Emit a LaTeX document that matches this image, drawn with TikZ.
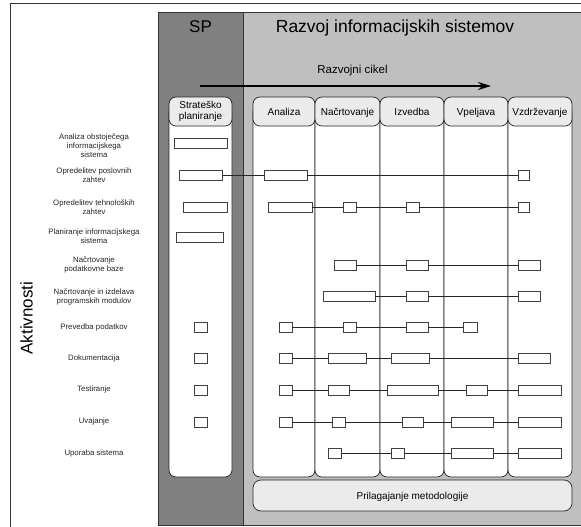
\documentclass[tikz,border=0pt]{standalone}
\usepackage{fontspec}
\setmainfont{Liberation Sans}
\usetikzlibrary{arrows.meta}
\newcommand{\mkbox}[4]{\node[bx, minimum width={(#3-#2)*1pt}] (#1) at ({(#2+#3)/2},#4) {};}
\begin{document}
\begin{tikzpicture}[x=1pt,y=-1pt,
  bx/.style={draw=black!75, line width=0.8pt, fill=white, minimum height=10pt, inner sep=0pt},
  link/.style={draw=black!85, line width=0.7pt},
  hdr/.style={draw=black!85, line width=0.7pt, fill=black!8, rounded corners=7pt, minimum height=29pt, inner sep=0pt, font=\fontsize{10}{11}\selectfont, align=center},
  lane/.style={draw=black!85, line width=0.7pt, fill=white, rounded corners=7pt, inner sep=0pt, minimum height=372pt},
  lbl/.style={font=\fontsize{7.8}{9}\selectfont, align=center, text=black!85, inner sep=0pt},
  region/.style={draw=black!80, line width=0.6pt}
]
\useasboundingbox (0,0) rectangle (581,527);
\clip (0,0) rectangle (581,527);
\fill[white] (0,0) rectangle (581,527);
\draw[black!80, line width=0.7pt] (10,3) rectangle (600,545);
% regions
\filldraw[region, fill=black!50] (158,12) rectangle (243,525);
\filldraw[region, fill=black!25] (243,12) rectangle (600,525);
% titles
\node[anchor=base, font=\fontsize{17}{20}\selectfont, inner sep=0pt] (tsp) at (200.5,33) {SP};
\node[anchor=base, font=\fontsize{17.5}{20}\selectfont, inner sep=0pt] (tri) at (395,33) {Razvoj informacijskih sistemov};
\node[anchor=base, font=\fontsize{11.5}{13}\selectfont, inner sep=0pt] (tcyc) at (352.5,74) {Razvojni cikel};
\coordinate (arrS) at (200,86);
\coordinate (arrE) at (491,86);
\draw[line width=2pt, -{Stealth[length=13pt,width=8pt]}] (arrS) -- (arrE);
% lanes (bodies)
\node[lane, minimum width=63pt] (bSP) at (200.5,291) {};
\node[lane, minimum width=62pt] (bAn) at (284,291) {};
\node[lane, minimum width=65pt] (bNa) at (347.5,291) {};
\node[lane, minimum width=64pt] (bIz) at (412,291) {};
\node[lane, minimum width=64pt] (bVp) at (476,291) {};
\node[lane, minimum width=64pt] (bVz) at (540,291) {};
% headers
\node[hdr, minimum width=63pt] (hSP) at (200.5,111.5) {Strateško\\planiranje};
\node[hdr, minimum width=62pt, text height=7.2pt, text depth=0pt] (hAn) at (284,111.5) {Analiza};
\node[hdr, minimum width=65pt, text height=7.2pt, text depth=0pt] (hNa) at (347.5,111.5) {Načrtovanje};
\node[hdr, minimum width=64pt, text height=7.2pt, text depth=0pt] (hIz) at (412,111.5) {Izvedba};
\node[hdr, minimum width=64pt, text height=7.2pt, text depth=0pt] (hVp) at (476,111.5) {Vpeljava};
\node[hdr, minimum width=64pt, text height=7.2pt, text depth=0pt] (hVz) at (540,111.5) {Vzdrževanje};
% bottom box
\node[hdr, minimum width=319pt, minimum height=31pt, rounded corners=8pt, text height=7.2pt, text depth=0pt] (adapt) at (412.5,495.5) {Prilagajanje metodologije};
% Aktivnosti
\node[rotate=90, font=\fontsize{17}{20}\selectfont, inner sep=0pt] (akt) at (26.5,318) {Aktivnosti};
% row labels
\node[lbl] (l1) at (94,146) {Analiza obstoječega\\informacijskega\\sistema};
\node[lbl] (l2) at (94,175.5) {Opredelitev poslovnih\\zahtev};
\node[lbl] (l3) at (94,207.5) {Opredelitev tehnoloških\\zahtev};
\node[lbl] (l4) at (94,236.5) {Planiranje informacijskega\\sistema};
\node[lbl] (l5) at (94,264.5) {Načrtovanje\\podatkovne baze};
\node[lbl] (l6) at (94,297) {Načrtovanje in izdelava\\programskih modulov};
\node[lbl] (l7) at (94,327) {Prevedba podatkov};
\node[lbl] (l8) at (94,358) {Dokumentacija};
\node[lbl] (l9) at (94,389.5) {Testiranje};
\node[lbl] (l10) at (94,421.5) {Uvajanje};
\node[lbl] (l11) at (94,453) {Uporaba sistema};
% row 1
\mkbox{r1s}{174}{227}{143}
% row 2
\mkbox{r2s}{179}{222}{175}
\mkbox{r2a}{264}{307}{175}
\mkbox{r2z}{518}{529}{175}
\draw[link] (r2s) -- (r2a) -- (r2z);
% row 3
\mkbox{r3s}{183}{227}{207}
\mkbox{r3a}{268}{312}{207}
\mkbox{r3n}{343}{356}{207}
\mkbox{r3i}{406}{419}{207}
\mkbox{r3z}{518}{529}{207}
\draw[link] (r3a) -- (r3n) -- (r3i) -- (r3z);
% row 4
\mkbox{r4s}{176}{223}{237}
% row 5
\mkbox{r5n}{334}{356}{265}
\mkbox{r5i}{406}{428}{265}
\mkbox{r5z}{518}{540}{265}
\draw[link] (r5n) -- (r5i) -- (r5z);
% row 6
\mkbox{r6n}{323}{375}{296}
\mkbox{r6i}{406}{428}{296}
\mkbox{r6z}{518}{540}{296}
\draw[link] (r6n) -- (r6i) -- (r6z);
% row 7
\mkbox{r7s}{194}{207}{327}
\mkbox{r7a}{279}{292}{327}
\mkbox{r7n}{343}{356}{327}
\mkbox{r7i}{406}{428}{327}
\mkbox{r7v}{463}{477}{327}
\draw[link] (r7a) -- (r7n) -- (r7i) -- (r7v);
% row 8
\mkbox{r8s}{194}{207}{358}
\mkbox{r8a}{279}{292}{358}
\mkbox{r8n}{328}{366}{358}
\mkbox{r8i}{391}{429}{358}
\mkbox{r8z}{518}{550}{358}
\draw[link] (r8a) -- (r8n) -- (r8i) -- (r8z);
% row 9
\mkbox{r9s}{194}{207}{390}
\mkbox{r9a}{279}{292}{390}
\mkbox{r9n}{328}{349}{390}
\mkbox{r9i}{387}{438}{390}
\mkbox{r9v}{466}{487}{390}
\mkbox{r9z}{518}{561}{390}
\draw[link] (r9a) -- (r9n) -- (r9i) -- (r9v) -- (r9z);
% row 10
\mkbox{r10s}{194}{207}{422}
\mkbox{r10a}{279}{292}{422}
\mkbox{r10n}{332}{345}{422}
\mkbox{r10i}{402}{423}{422}
\mkbox{r10v}{451}{493}{422}
\mkbox{r10z}{518}{561}{422}
\draw[link] (r10a) -- (r10n) -- (r10i) -- (r10v) -- (r10z);
% row 11
\mkbox{r11n}{328}{341}{453}
\mkbox{r11i}{391}{404}{453}
\mkbox{r11v}{451}{493}{453}
\mkbox{r11z}{518}{561}{453}
\draw[link] (r11n) -- (r11i) -- (r11v) -- (r11z);
\end{tikzpicture}
\end{document}
